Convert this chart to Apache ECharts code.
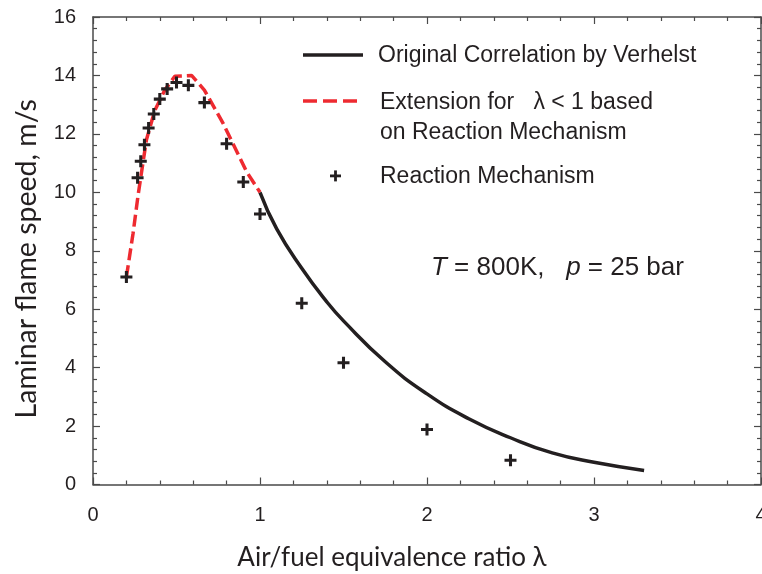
<!DOCTYPE html>
<html>
<head>
<meta charset="utf-8">
<script src="https://cdn.jsdelivr.net/npm/echarts@6/dist/echarts.min.js"></script>
<style>html,body{margin:0;padding:0;background:#fff}#c{width:762px;height:574px}</style>
</head>
<body>
<div id="c"></div>
<script>
// Original correlation by Verhelst (lambda >= 1)
const verhelstX = [1.0, 1.1, 1.25, 1.4, 1.5, 1.75, 2.0, 2.25, 2.5, 2.75, 3.0, 3.3];
const verhelstY = [10.0, 8.75, 7.4, 6.25, 5.6, 4.2, 3.1, 2.25, 1.6, 1.08, 0.76, 0.48];
// Extension for lambda < 1 based on reaction mechanism
const extX = [0.2, 0.24, 0.27, 0.32, 0.37, 0.43, 0.49, 0.5, 0.59, 0.667, 0.78, 0.92, 1.0];
const extY = [7.1, 8.6, 9.9, 11.8, 12.8, 13.5, 13.97, 14.0, 14.0, 13.5, 12.35, 10.7, 10.0];
// Reaction mechanism points
const mechX = [0.2, 0.267, 0.286, 0.308, 0.333, 0.364, 0.4, 0.444, 0.5, 0.571, 0.667, 0.8, 0.9, 1.0, 1.25, 1.5, 2.0, 2.5];
const mechY = [7.1, 10.5, 11.06, 11.63, 12.2, 12.68, 13.19, 13.54, 13.76, 13.66, 13.07, 11.66, 10.35, 9.26, 6.2, 4.17, 1.88, 0.83];
const xTicks = [0, 1, 2, 3, 4];
const yTicks = [0, 2, 4, 6, 8, 10, 12, 14, 16];

const pair = (xs, ys) => xs.map((x, i) => [x, ys[i]]);
const plusPath = 'path://M4.1,0h2.8v4.1h4.1v2.8h-4.1v4.1h-2.8v-4.1h-4.1v-2.8h4.1z';
const BLACK = '#231f20', RED = '#ee2a30', AXIS = '#4a4a4a', TXT = '#231f20';
const axisCommon = {
  axisLine: {show: true, onZero: false, lineStyle: {color: AXIS, width: 1.5}},
  axisTick: {show: true, inside: true, length: 7, lineStyle: {color: AXIS, width: 1.2}},
  minorTick: {show: true, splitNumber: 5, length: 4, lineStyle: {color: AXIS, width: 1.2}},
  splitLine: {show: false}
};
const chart = echarts.init(document.getElementById('c'), null, {renderer: 'canvas'});
chart.setOption({
  animation: false,
  backgroundColor: '#fff',
  grid: {left: 93, right: 1, top: 17, bottom: 89.5, containLabel: false, outerBoundsMode: 'none'},
  xAxis: [
    Object.assign({}, axisCommon, {
      type: 'value', min: xTicks[0], max: xTicks[xTicks.length - 1], interval: 1, position: 'bottom',
      name: 'Air/fuel equivalence ratio λ', nameLocation: 'middle', nameGap: 60,
      nameTextStyle: {fontFamily: 'Lato', fontSize: 26, color: TXT, padding: [0, 70, 0, 0]},
      axisLabel: {show: true, margin: 21, fontFamily: 'Liberation Sans', fontSize: 20, color: TXT}
    }),
    Object.assign({}, axisCommon, {
      type: 'value', min: xTicks[0], max: xTicks[xTicks.length - 1], interval: 1, position: 'top',
      axisLabel: {show: false}
    })
  ],
  yAxis: [
    Object.assign({}, axisCommon, {
      type: 'value', min: yTicks[0], max: yTicks[yTicks.length - 1], interval: 2, position: 'left',
      name: 'Laminar flame speed, m/s', nameLocation: 'middle', nameGap: 52, nameRotate: 90,
      nameTextStyle: {fontFamily: 'Lato', fontSize: 28.5, color: TXT, padding: [0, 16, 0, 0]},
      axisLabel: {show: true, margin: 17, fontFamily: 'Liberation Sans', fontSize: 20, color: TXT}
    }),
    Object.assign({}, axisCommon, {
      type: 'value', min: yTicks[0], max: yTicks[yTicks.length - 1], interval: 2, position: 'right',
      axisLabel: {show: false}
    })
  ],
  series: [
    {type: 'line', data: pair(verhelstX, verhelstY), smooth: true, symbol: 'none',
     lineStyle: {color: BLACK, width: 3.5}, z: 3},
    {type: 'line', data: pair(extX, extY), smooth: false, symbol: 'none',
     lineStyle: {color: RED, width: 3.5, type: [12, 5]}, z: 3},
    {type: 'scatter', data: pair(mechX, mechY), symbol: plusPath, symbolSize: 12,
     itemStyle: {color: BLACK, opacity: 1}, z: 4}
  ],
  graphic: [
    {type: 'line', shape: {x1: 303, y1: 55, x2: 363, y2: 55}, style: {stroke: BLACK, lineWidth: 3.5}},
    {type: 'text', x: 378, y: 56, style: {text: 'Original Correlation by Verhelst', fontFamily: 'Liberation Sans', fontSize: 23, fill: TXT, verticalAlign: 'middle'}},
    {type: 'line', shape: {x1: 303, y1: 101, x2: 360, y2: 101}, style: {stroke: RED, lineWidth: 3.5, lineDash: [14, 6]}},
    {type: 'text', x: 380, y: 103, style: {text: 'Extension for   λ < 1 based', fontFamily: 'Liberation Sans', fontSize: 23, fill: TXT, verticalAlign: 'middle'}},
    {type: 'text', x: 380, y: 133, style: {text: 'on Reaction Mechanism', fontFamily: 'Liberation Sans', fontSize: 23, fill: TXT, verticalAlign: 'middle'}},
    {type: 'rect', shape: {x: 330, y: 174.5, width: 11, height: 2.8}, style: {fill: BLACK}},
    {type: 'rect', shape: {x: 334.1, y: 170.4, width: 2.8, height: 11}, style: {fill: BLACK}},
    {type: 'text', x: 380, y: 177, style: {text: 'Reaction Mechanism', fontFamily: 'Liberation Sans', fontSize: 23, fill: TXT, verticalAlign: 'middle'}},
    {type: 'text', x: 431, y: 268, style: {
      text: '{i|T} = 800K,   {i|p} = 25 bar', fontFamily: 'Liberation Sans', fontSize: 26, fill: TXT, verticalAlign: 'middle',
      rich: {i: {fontStyle: 'italic', fontFamily: 'Liberation Sans', fontSize: 26, fill: TXT}}}}
  ]
});
</script>
</body>
</html>
